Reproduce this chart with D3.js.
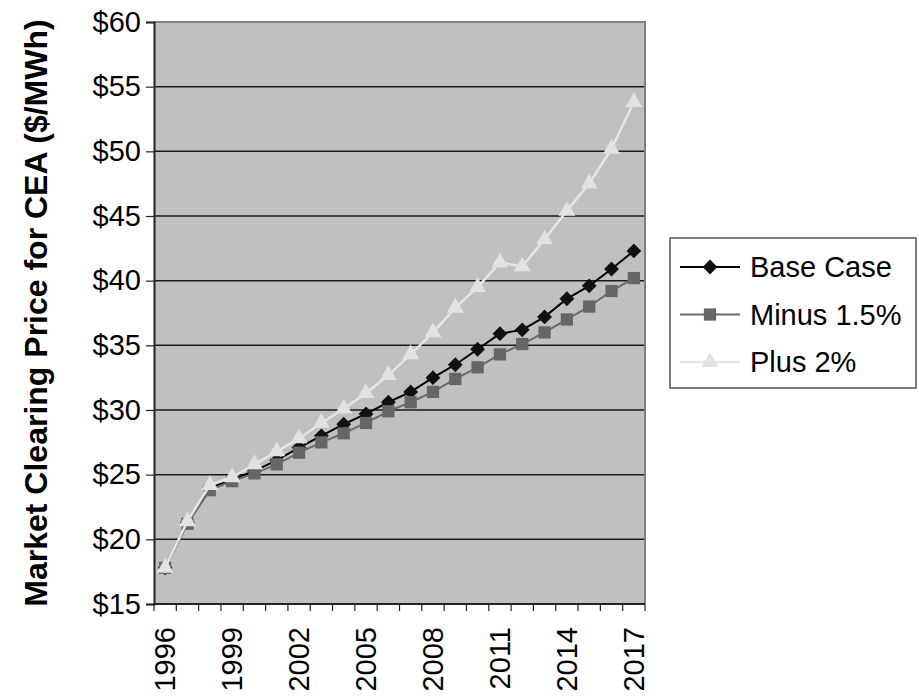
<!DOCTYPE html>
<html>
<head>
<meta charset="utf-8">
<script src="https://cdn.jsdelivr.net/npm/d3@7"></script>
<style>
  html, body { margin: 0; padding: 0; background: #fff; }
  svg { display: block; font-family: "Liberation Sans", Arial, sans-serif; }
</style>
</head>
<body>
<svg id="chart" width="919" height="698"></svg>
<script>
// Market clearing price scenarios, 1996-2017 ($/MWh)
const years = d3.range(1996, 2018);
const yearLabels = [1996, 1999, 2002, 2005, 2008, 2011, 2014, 2017];
const priceTicks = [15, 20, 25, 30, 35, 40, 45, 50, 55, 60];

const baseCase = [17.8, 21.3, 24.0, 24.6, 25.3, 26.1, 27.1, 28.0, 28.9, 29.7, 30.6, 31.4,
                  32.5, 33.5, 34.7, 35.9, 36.2, 37.2, 38.6, 39.6, 40.9, 42.3];
const minus15 = [17.8, 21.2, 23.8, 24.5, 25.1, 25.8, 26.7, 27.5, 28.2, 29.0, 29.9, 30.6,
                 31.4, 32.4, 33.3, 34.3, 35.1, 36.0, 37.0, 38.0, 39.2, 40.2];
const plus2 = [17.8, 21.4, 24.2, 24.8, 25.8, 26.8, 27.8, 29.0, 30.1, 31.3, 32.7, 34.3,
               36.0, 37.9, 39.5, 41.4, 41.1, 43.2, 45.4, 47.5, 50.2, 53.8];

const seriesNames = ["Base Case", "Minus 1.5%", "Plus 2%"];
const seriesValues = [baseCase, minus15, plus2];

// square diamond marker (equal width and height)
const wideDiamond = {
  draw(ctx, size) {
    const r = Math.sqrt(size / 2);
    ctx.moveTo(0, -r); ctx.lineTo(r, 0); ctx.lineTo(0, r); ctx.lineTo(-r, 0); ctx.closePath();
  }
};

const styles = [
  { line: "#000000", fill: "#111111", width: 2, symbol: wideDiamond, size: 110 },
  { line: "#6b6b6b", fill: "#666666", width: 2, symbol: d3.symbolSquare, size: 150 },
  { line: "#e6e6e6", fill: "#e2e2e2", width: 2.5, symbol: d3.symbolTriangle, size: 125 }
];

const svg = d3.select("#chart");
const plot = { left: 154, top: 22, right: 645, bottom: 604 };

const x = d3.scaleBand().domain(years).range([plot.left, plot.right]).padding(0);
const y = d3.scaleLinear().domain([15, 60]).range([plot.bottom, plot.top]);
const cx = d => x(d) + x.bandwidth() / 2;

// plot area background
svg.append("rect")
  .attr("x", plot.left).attr("y", plot.top)
  .attr("width", plot.right - plot.left).attr("height", plot.bottom - plot.top)
  .attr("fill", "#c0c0c0");

// horizontal gridlines
svg.append("g").selectAll("line")
  .data(priceTicks.filter(v => v > 15 && v < 60))
  .join("line")
  .attr("x1", plot.left).attr("x2", plot.right)
  .attr("y1", d => y(d)).attr("y2", d => y(d))
  .attr("stroke", "#1a1a1a").attr("stroke-width", 1.5);

// top and right frame
svg.append("path")
  .attr("d", `M${plot.left},${plot.top}H${plot.right}V${plot.bottom}`)
  .attr("fill", "none").attr("stroke", "#808080").attr("stroke-width", 2);

// y axis
const yAxis = svg.append("g")
  .attr("transform", `translate(${plot.left},0)`)
  .call(d3.axisLeft(y).tickValues(priceTicks).tickSize(8).tickPadding(5)
    .tickFormat(d => "$" + d));
yAxis.select(".domain").attr("stroke", "#222").attr("stroke-width", 2);
yAxis.selectAll(".tick line").attr("stroke", "#222").attr("stroke-width", 1.2);
yAxis.selectAll(".tick text")
  .attr("font-size", 29).attr("fill", "#000")
  .attr("font-family", "'Liberation Sans', Arial, sans-serif");

// x axis: tick marks at category boundaries
const xAxis = svg.append("g");
xAxis.append("line")
  .attr("x1", plot.left).attr("x2", plot.right)
  .attr("y1", plot.bottom).attr("y2", plot.bottom)
  .attr("stroke", "#222").attr("stroke-width", 2);
xAxis.selectAll("line.tk")
  .data(years.concat([null]))
  .join("line")
  .attr("class", "tk")
  .attr("x1", (d, i) => plot.left + i * x.bandwidth())
  .attr("x2", (d, i) => plot.left + i * x.bandwidth())
  .attr("y1", plot.bottom).attr("y2", plot.bottom + 7)
  .attr("stroke", "#222").attr("stroke-width", 1.2);
xAxis.selectAll("text")
  .data(yearLabels)
  .join("text")
  .attr("transform", d => `translate(${cx(d)},${plot.bottom + 23}) rotate(-90)`)
  .attr("text-anchor", "end")
  .attr("dominant-baseline", "central")
  .attr("font-size", 29)
  .text(d => d);

// y axis title
svg.append("text")
  .attr("transform", `translate(36,${(plot.top + plot.bottom) / 2}) rotate(-90)`)
  .attr("text-anchor", "middle")
  .attr("dominant-baseline", "central")
  .attr("font-size", 32)
  .attr("font-weight", "bold")
  .text("Market Clearing Price for CEA ($/MWh)");

// series lines and markers
const line = d3.line().x((d, i) => cx(years[i])).y(d => y(d));
seriesValues.forEach((vals, s) => {
  const st = styles[s];
  const g = svg.append("g");
  g.append("path")
    .attr("d", line(vals))
    .attr("fill", "none")
    .attr("stroke", st.line)
    .attr("stroke-width", st.width)
    .attr("stroke-linejoin", "round");
  g.selectAll("path.m")
    .data(vals)
    .join("path")
    .attr("class", "m")
    .attr("d", d3.symbol().type(st.symbol).size(st.size))
    .attr("transform", (d, i) => `translate(${cx(years[i])},${y(d)})`)
    .attr("fill", st.fill);
});

// legend
const legend = svg.append("g");
legend.append("rect")
  .attr("x", 670).attr("y", 238).attr("width", 246).attr("height", 150)
  .attr("fill", "#fff").attr("stroke", "#555").attr("stroke-width", 1.5);
seriesNames.forEach((name, s) => {
  const st = styles[s];
  const ly = 267 + s * 47.5;
  legend.append("line")
    .attr("x1", 680).attr("x2", 740).attr("y1", ly).attr("y2", ly)
    .attr("stroke", st.line).attr("stroke-width", st.width);
  legend.append("path")
    .attr("d", d3.symbol().type(st.symbol).size(st.size)())
    .attr("transform", `translate(710,${ly})`)
    .attr("fill", st.fill);
  legend.append("text")
    .attr("x", 750).attr("y", ly)
    .attr("dominant-baseline", "central")
    .attr("font-size", 29)
    .text(name);
});
</script>
</body>
</html>
